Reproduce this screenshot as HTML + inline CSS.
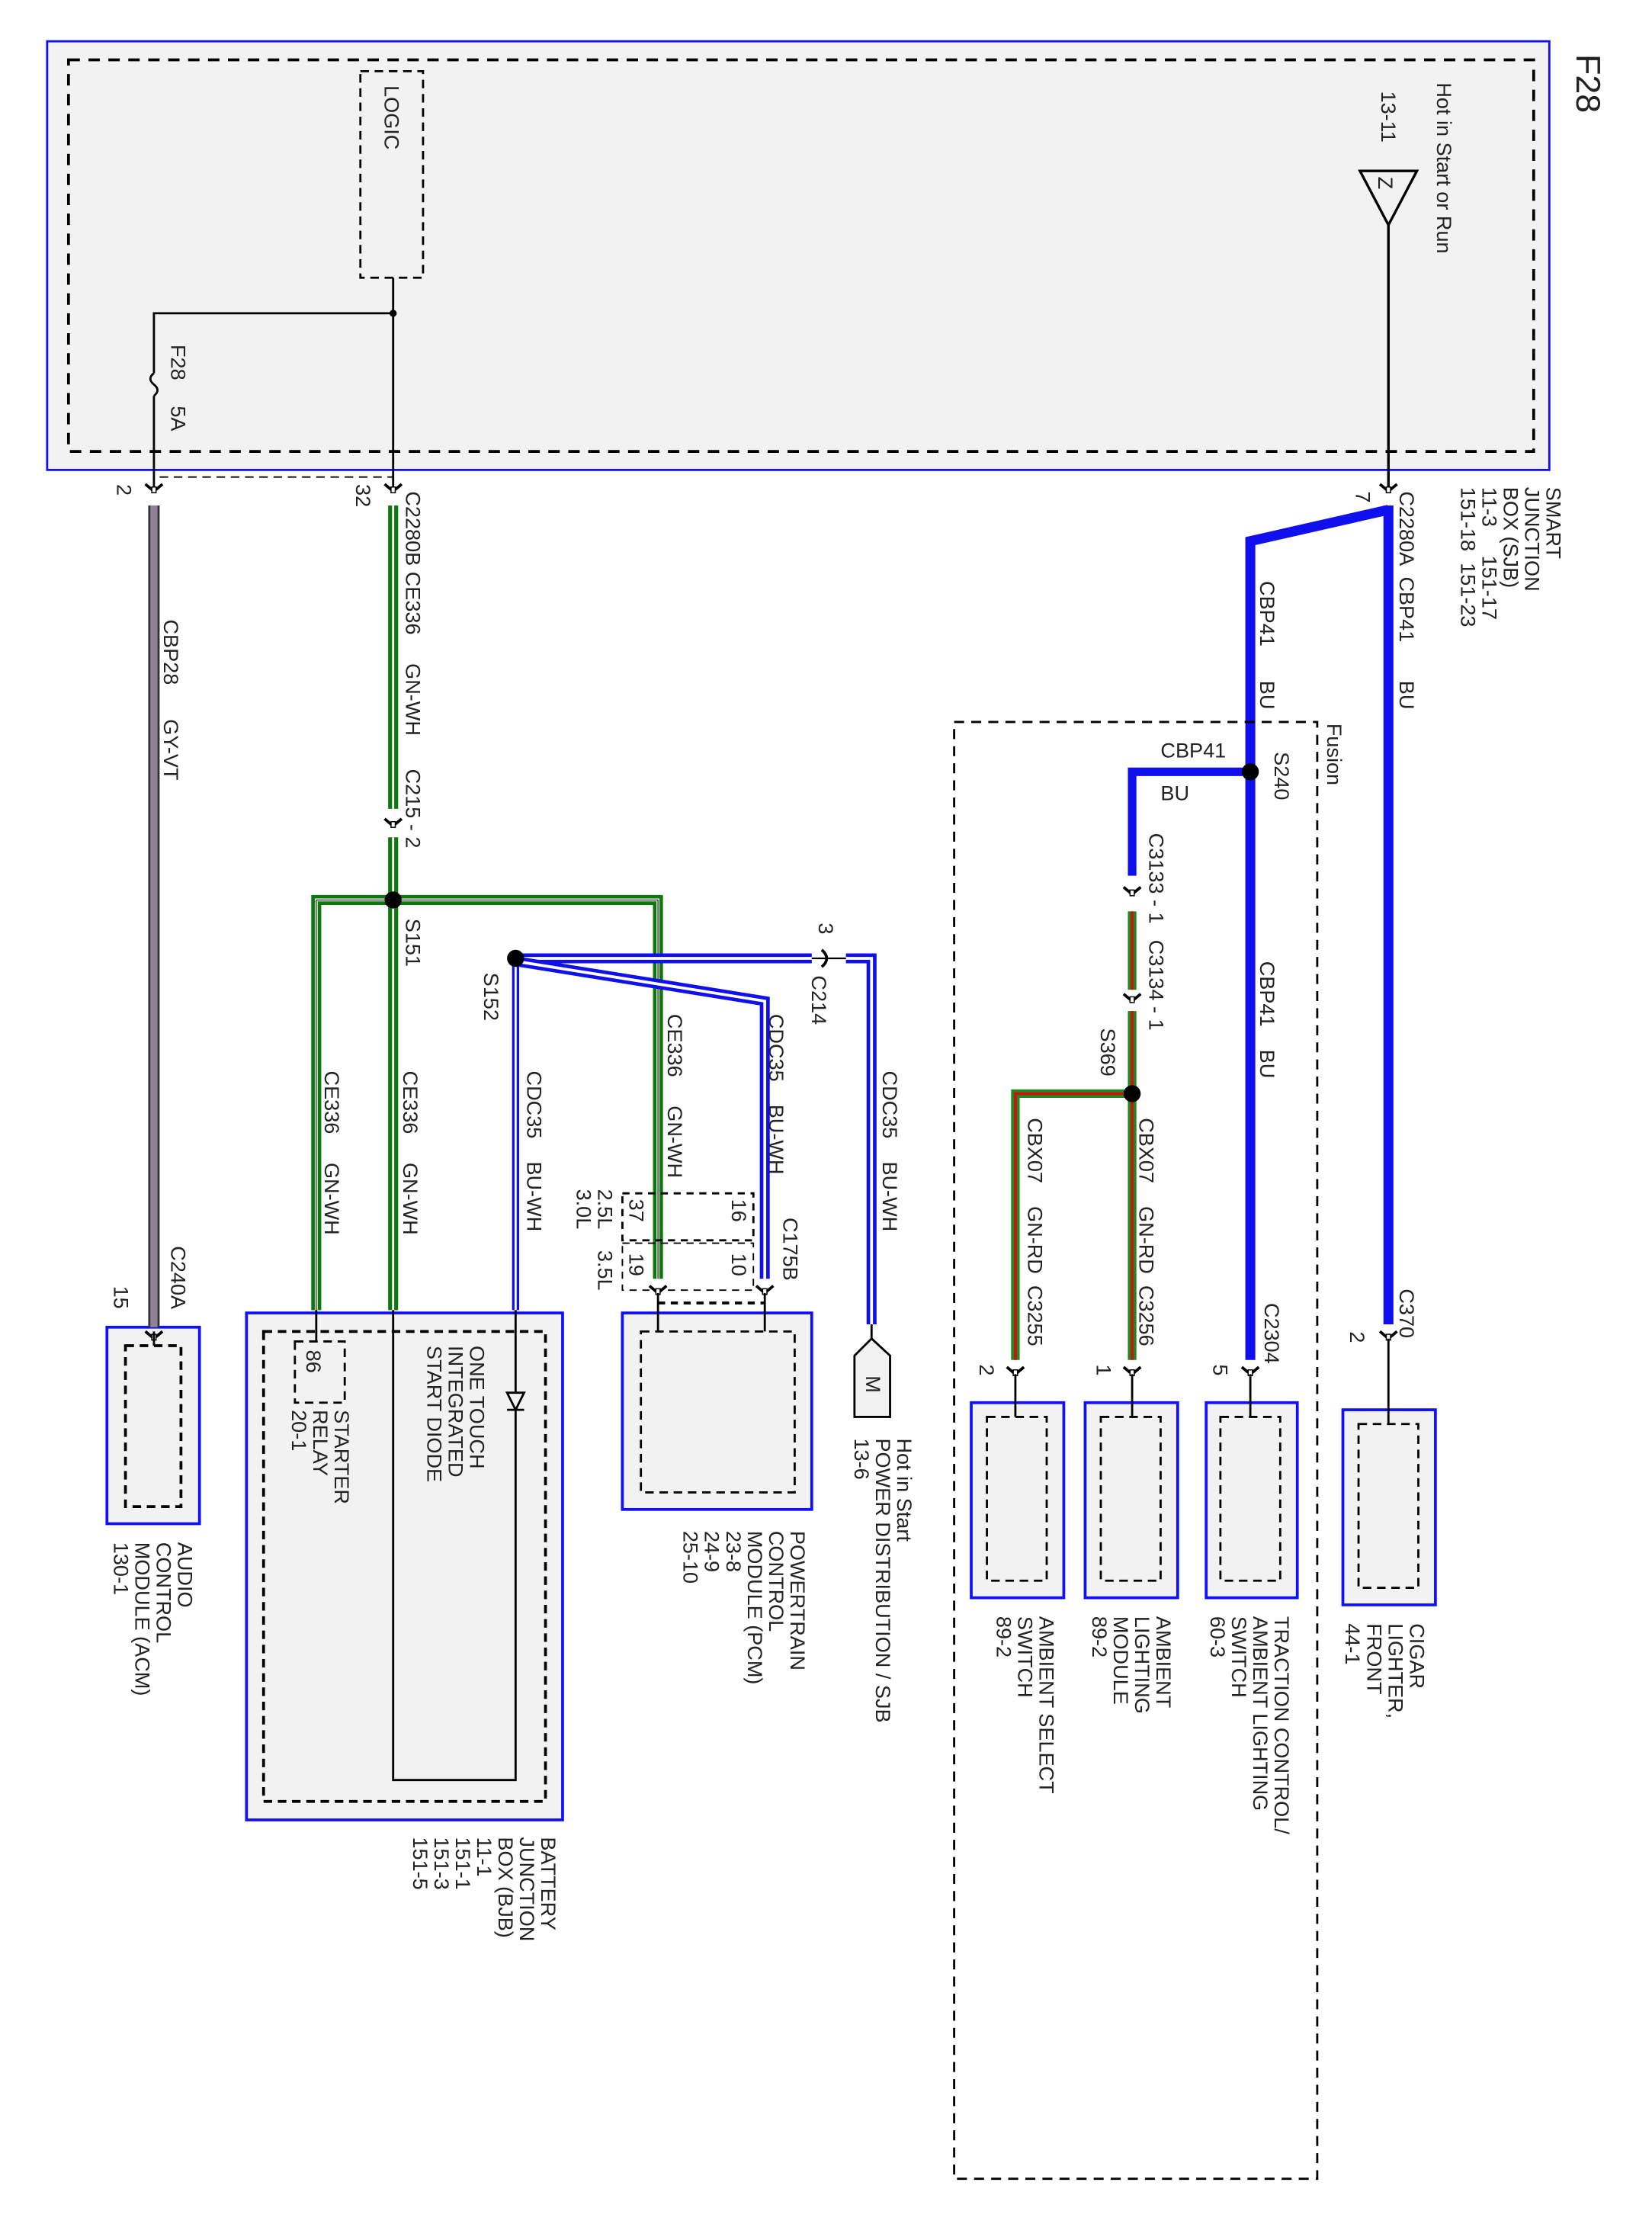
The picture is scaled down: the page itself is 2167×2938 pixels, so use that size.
<!DOCTYPE html>
<html><head><meta charset="utf-8"><style>
html,body{margin:0;padding:0;background:#fff}
svg{display:block}
text{font-family:"Liberation Sans",sans-serif;font-size:14.5px;fill:#222}
</style></head><body>
<svg width="2167" height="2938" viewBox="0 0 1160 1573" xmlns="http://www.w3.org/2000/svg">
<defs>
<g id="arr"><path d="M-6,-5 L0,0 L6,-5" fill="none" stroke="#000" stroke-width="2"/><rect x="-1.5" y="-3" width="3" height="4" fill="#fff" stroke="#000" stroke-width="0.8"/></g>
</defs>
<!-- SJB -->
<rect x="33" y="29" width="1055" height="301" fill="#f2f2f2" stroke="#1010ff" stroke-width="1.5"/>
<rect x="48" y="42" width="1029" height="275" fill="none" stroke="#000" stroke-width="2" stroke-dasharray="8,6"/>
<rect x="253" y="50" width="44" height="145" fill="none" stroke="#000" stroke-width="1.5" stroke-dasharray="6,4"/>
<text transform="translate(270,60) rotate(90)">LOGIC</text>
<text transform="translate(1107,38) rotate(90)" style="font-size:24px">F28</text>
<text transform="translate(1009,58) rotate(90)">Hot in Start or Run</text>
<text transform="translate(970,64) rotate(90)">13-11</text>
<path d="M955,120 L995,120 L975,158 Z" fill="none" stroke="#000" stroke-width="1.8"/>
<text transform="translate(968,124) rotate(90)">Z</text>
<line x1="975" y1="158" x2="975" y2="345" stroke="#000" stroke-width="1.8"/>
<polyline points="276,195 276,220 108,220 108,262" fill="none" stroke="#000" stroke-width="1.5"/>
<circle cx="276" cy="220" r="2.5" fill="#000"/>
<path d="M108,262 q-5,4 0,8 q5,4 0,8" fill="none" stroke="#000" stroke-width="1.5"/>
<line x1="108" y1="278" x2="108" y2="345" stroke="#000" stroke-width="1.5"/>
<line x1="276" y1="220" x2="276" y2="345" stroke="#000" stroke-width="1.5"/>
<text transform="translate(120,242) rotate(90)">F28</text>
<text transform="translate(120,285) rotate(90)">5A</text>
<line x1="112" y1="335" x2="276" y2="335" stroke="#000" stroke-width="1" stroke-dasharray="6,4"/>
<use href="#arr" x="108" y="345"/><use href="#arr" x="276" y="345"/><use href="#arr" x="975" y="345"/>
<text transform="translate(82,340) rotate(90)">2</text>
<text transform="translate(250,340) rotate(90)">32</text>
<text transform="translate(952,345) rotate(90)">7</text>
<text transform="translate(983,345) rotate(90)">C2280A</text>
<text transform="translate(1086,342) rotate(90)">SMART</text>
<text transform="translate(1071,342) rotate(90)">JUNCTION</text>
<text transform="translate(1056,342) rotate(90)">BOX (SJB)</text>
<text transform="translate(1041,342) rotate(90)">11-3 &#160;&#160;&#160;&#160;151-17</text>
<text transform="translate(1026,342) rotate(90)">151-18 &#160;151-23</text>
<!-- Blue BU wires -->
<polyline points="975,355 975,930" fill="none" stroke="#1010ee" stroke-width="7"/>
<polyline points="975,358 878,380 878,955" fill="none" stroke="#1010ee" stroke-width="7"/>
<use href="#arr" x="975" y="940"/><use href="#arr" x="878" y="965"/>
<text transform="translate(983,405) rotate(90)">CBP41</text><text transform="translate(983,478) rotate(90)">BU</text>
<text transform="translate(885,408) rotate(90)">CBP41</text><text transform="translate(885,478) rotate(90)">BU</text>
<text transform="translate(885,675) rotate(90)">CBP41 &#160;&#160;&#160;BU</text>
<text transform="translate(983,905) rotate(90)">C370</text><text transform="translate(948,935) rotate(90)">2</text>
<text transform="translate(888,915) rotate(90)">C2304</text><text transform="translate(852,958) rotate(90)">5</text>
<!-- Fusion -->
<rect x="670" y="507" width="255" height="1023" fill="none" stroke="#000" stroke-width="1.5" stroke-dasharray="7,5"/>
<text transform="translate(932,508) rotate(90)">Fusion</text>
<polyline points="878,542 795,542 795,615" fill="none" stroke="#1010ee" stroke-width="6"/>
<circle cx="878" cy="542" r="6" fill="#000"/>
<text transform="translate(895,528) rotate(90)">S240</text>
<text x="815" y="532">CBP41</text><text x="815" y="562">BU</text>
<use href="#arr" x="795" y="628"/>
<g fill="none" stroke-linejoin="miter">
<polyline points="795,640 795,695" stroke="#1d8a1d" stroke-width="6"/>
<polyline points="795,640 795,695" stroke="#d01010" stroke-width="2"/>
<polyline points="795,710 795,955" stroke="#1d8a1d" stroke-width="6"/>
<polyline points="795,710 795,955" stroke="#d01010" stroke-width="2"/>
<polyline points="795,768 713,768 713,955" stroke="#1d8a1d" stroke-width="6"/>
<polyline points="795,768 713,768 713,955" stroke="#d01010" stroke-width="2"/>
</g>
<use href="#arr" x="795" y="703"/>
<circle cx="795" cy="768" r="6" fill="#000"/>
<use href="#arr" x="795" y="965"/><use href="#arr" x="713" y="965"/>
<text transform="translate(807,585) rotate(90)">C3133 - 1</text>
<text transform="translate(807,660) rotate(90)">C3134 - 1</text>
<text transform="translate(773,722) rotate(90)">S369</text>
<text transform="translate(800,785) rotate(90)">CBX07 &#160;&#160;&#160;GN-RD &#160;C3256</text>
<text transform="translate(722,785) rotate(90)">CBX07 &#160;&#160;&#160;GN-RD &#160;C3255</text>
<text transform="translate(770,958) rotate(90)">1</text><text transform="translate(688,958) rotate(90)">2</text>
<!-- right boxes -->
<g fill="#f2f2f2" stroke="#1010ff" stroke-width="2">
<rect x="682" y="985" width="65" height="137"/><rect x="762" y="985" width="65" height="137"/>
<rect x="847" y="985" width="64" height="137"/><rect x="943" y="990" width="65" height="137"/>
<rect x="75" y="932" width="65" height="138"/>
<rect x="173" y="922" width="222" height="356"/>
<rect x="437" y="922" width="133" height="138"/>
</g>
<g fill="none" stroke="#000" stroke-width="1.5" stroke-dasharray="6,4">
<rect x="693" y="995" width="42" height="115"/><rect x="773" y="995" width="42" height="115"/>
<rect x="857" y="995" width="42" height="115"/><rect x="954" y="1000" width="42" height="115"/>
<rect x="88" y="945" width="39" height="113" stroke-width="2"/>
<rect x="185" y="935" width="198" height="330" stroke-width="2"/>
<rect x="450" y="935" width="108" height="113"/>
<rect x="207" y="942" width="35" height="43"/>
</g>
<g stroke="#000" stroke-width="1.5">
<line x1="713" y1="965" x2="713" y2="995"/><line x1="795" y1="965" x2="795" y2="995"/>
<line x1="878" y1="965" x2="878" y2="995"/><line x1="975" y1="940" x2="975" y2="1000"/>
</g>
<text transform="translate(730,1135) rotate(90)">AMBIENT SELECT</text>
<text transform="translate(715,1135) rotate(90)">SWITCH</text>
<text transform="translate(700,1135) rotate(90)">89-2</text>
<text transform="translate(812,1135) rotate(90)">AMBIENT</text>
<text transform="translate(797,1135) rotate(90)">LIGHTING</text>
<text transform="translate(782,1135) rotate(90)">MODULE</text>
<text transform="translate(767,1135) rotate(90)">89-2</text>
<text transform="translate(895,1135) rotate(90)">TRACTION CONTROL/</text>
<text transform="translate(880,1135) rotate(90)">AMBIENT LIGHTING</text>
<text transform="translate(865,1135) rotate(90)">SWITCH</text>
<text transform="translate(850,1135) rotate(90)">60-3</text>
<text transform="translate(990,1140) rotate(90)">CIGAR</text>
<text transform="translate(975,1140) rotate(90)">LIGHTER,</text>
<text transform="translate(960,1140) rotate(90)">FRONT</text>
<text transform="translate(945,1140) rotate(90)">44-1</text>
<!-- GY-VT -->
<line x1="108" y1="355" x2="108" y2="932" stroke="#333" stroke-width="8"/>
<line x1="108" y1="355" x2="108" y2="932" stroke="#8e8296" stroke-width="5"/>
<use href="#arr" x="108" y="940"/>
<text transform="translate(115,435) rotate(90)">CBP28</text><text transform="translate(115,505) rotate(90)">GY-VT</text>
<text transform="translate(120,875) rotate(90)">C240A</text><text transform="translate(80,903) rotate(90)">15</text>
<line x1="108" y1="945" x2="108" y2="935" stroke="#000" stroke-width="1.5"/>
<text transform="translate(125,1083) rotate(90)">AUDIO</text>
<text transform="translate(110,1083) rotate(90)">CONTROL</text>
<text transform="translate(95,1083) rotate(90)">MODULE (ACM)</text>
<text transform="translate(80,1083) rotate(90)">130-1</text>
<!-- GN-WH -->
<g fill="none">
<polyline points="276,355 276,568" stroke="#0c780c" stroke-width="7"/>
<polyline points="276,355 276,568" stroke="#fff" stroke-width="1.5"/>
<polyline points="276,588 276,920" stroke="#0c780c" stroke-width="7"/>
<polyline points="276,588 276,920" stroke="#fff" stroke-width="1.5"/>
<polyline points="222,920 222,632 462,632 462,898" stroke="#0c780c" stroke-width="7"/>
<polyline points="222,920 222,632 462,632 462,898" stroke="#fff" stroke-width="2"/>
<polyline points="222,920 222,632 462,632 462,898" stroke="#000" stroke-width="0.6"/>
</g>
<use href="#arr" x="276" y="580"/>
<circle cx="276" cy="632" r="6" fill="#000"/>
<text transform="translate(285,345) rotate(90)">C2280B CE336 &#160;&#160;&#160;&#160;GN-WH</text>
<text transform="translate(285,540) rotate(90)">C215 - 2</text>
<text transform="translate(285,645) rotate(90)">S151</text>
<text transform="translate(283,752) rotate(90)">CE336 &#160;&#160;&#160;&#160;GN-WH</text>
<text transform="translate(228,752) rotate(90)">CE336 &#160;&#160;&#160;&#160;GN-WH</text>
<text transform="translate(469,712) rotate(90)">CE336 &#160;&#160;&#160;&#160;GN-WH</text>
<!-- BU-WH -->
<g fill="none">
<polyline points="362,673 570,673" stroke="#1010ee" stroke-width="7"/>
<polyline points="362,673 570,673" stroke="#fff" stroke-width="2"/>
<polyline points="594,673 612,673 612,930" stroke="#1010ee" stroke-width="7"/>
<polyline points="594,673 612,673 612,930" stroke="#fff" stroke-width="2"/>
<polyline points="362,675 537,703 537,898" stroke="#1010ee" stroke-width="7"/>
<polyline points="362,675 537,703 537,898" stroke="#fff" stroke-width="2"/>
<polyline points="362,673 362,920" stroke="#1010ee" stroke-width="5"/>
<polyline points="362,673 362,920" stroke="#fff" stroke-width="1.5"/>
</g>
<line x1="570" y1="673" x2="594" y2="673" stroke="#000" stroke-width="1.2"/>
<path d="M577,667 Q584,673 577,679" fill="none" stroke="#000" stroke-width="2"/>
<circle cx="362" cy="673" r="6" fill="#000"/>
<text transform="translate(575,648) rotate(90)">3</text>
<text transform="translate(570,685) rotate(90)">C214</text>
<text transform="translate(340,683) rotate(90)">S152</text>
<text transform="translate(370,752) rotate(90)">CDC35 &#160;&#160;&#160;BU-WH</text>
<text transform="translate(540,712) rotate(90)">CDC35 &#160;&#160;&#160;BU-WH</text>
<text transform="translate(620,752) rotate(90)">CDC35 &#160;&#160;&#160;BU-WH</text>
<!-- C175B -->
<g fill="none" stroke="#000" stroke-dasharray="5,4">
<rect x="437" y="838" width="92" height="33" stroke-width="1.5"/>
<rect x="437" y="873" width="92" height="33" stroke-width="1"/>
<line x1="462" y1="915" x2="537" y2="915" stroke-width="2"/>
</g>
<text transform="translate(442,842) rotate(90)">37</text><text transform="translate(442,880) rotate(90)">19</text>
<text transform="translate(514,842) rotate(90)">16</text><text transform="translate(514,880) rotate(90)">10</text>
<text transform="translate(420,835) rotate(90)">2.5L</text><text transform="translate(420,878) rotate(90)">3.5L</text>
<text transform="translate(405,835) rotate(90)">3.0L</text>
<text transform="translate(550,855) rotate(90)">C175B</text>
<use href="#arr" x="462" y="908"/><use href="#arr" x="537" y="908"/>
<polyline points="462,908 462,935" stroke="#000" stroke-width="1.5"/>
<polyline points="537,908 537,935" stroke="#000" stroke-width="1.5"/>
<text transform="translate(555,1075) rotate(90)">POWERTRAIN</text>
<text transform="translate(540,1075) rotate(90)">CONTROL</text>
<text transform="translate(525,1075) rotate(90)">MODULE (PCM)</text>
<text transform="translate(510,1075) rotate(90)">23-8</text>
<text transform="translate(495,1075) rotate(90)">24-9</text>
<text transform="translate(480,1075) rotate(90)">25-10</text>
<!-- M -->
<path d="M612,930 L612,940 L600,952 L600,995 L625,995 L625,952 L612,940" fill="#f2f2f2" stroke="#000" stroke-width="1.5"/>
<text transform="translate(608,966) rotate(90)">M</text>
<text transform="translate(630,1010) rotate(90)">Hot in Start</text>
<text transform="translate(615,1010) rotate(90)">POWER DISTRIBUTION / SJB</text>
<text transform="translate(600,1010) rotate(90)">13-6</text>
<!-- BJB internals -->
<polyline points="362,920 362,978" stroke="#000" stroke-width="1.5" fill="none"/>
<path d="M356,978 L368,978 L362,990 Z M356,990 L368,990" fill="none" stroke="#000" stroke-width="1.5"/>
<polyline points="362,990 362,1250 276,1250 276,920" fill="none" stroke="#000" stroke-width="1.5"/>
<line x1="222" y1="920" x2="222" y2="942" stroke="#000" stroke-width="1.5"/>
<text transform="translate(215,948) rotate(90)">86</text>
<text transform="translate(235,990) rotate(90)">STARTER</text>
<text transform="translate(220,990) rotate(90)">RELAY</text>
<text transform="translate(205,990) rotate(90)">20-1</text>
<text transform="translate(330,945) rotate(90)">ONE TOUCH</text>
<text transform="translate(315,945) rotate(90)">INTEGRATED</text>
<text transform="translate(300,945) rotate(90)">START DIODE</text>
<text transform="translate(380,1290) rotate(90)">BATTERY</text>
<text transform="translate(365,1290) rotate(90)">JUNCTION</text>
<text transform="translate(350,1290) rotate(90)">BOX (BJB)</text>
<text transform="translate(335,1290) rotate(90)">11-1</text>
<text transform="translate(320,1290) rotate(90)">151-1</text>
<text transform="translate(305,1290) rotate(90)">151-3</text>
<text transform="translate(290,1290) rotate(90)">151-5</text>
</svg>
</body></html>
